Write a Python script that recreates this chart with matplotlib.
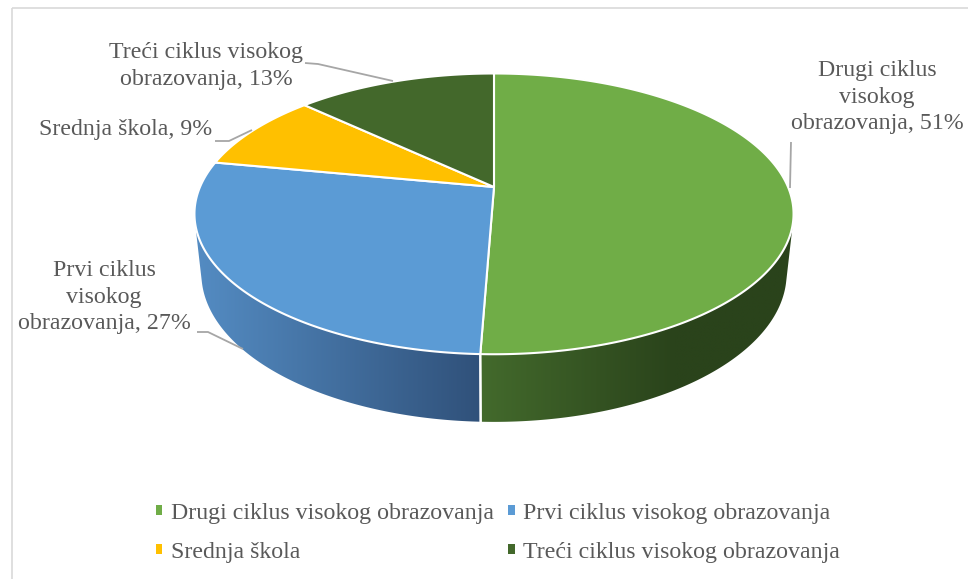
import numpy as np
import matplotlib
matplotlib.use("Agg")
import matplotlib.pyplot as plt
from matplotlib.patches import Polygon, Rectangle, Patch
from matplotlib.colors import LinearSegmentedColormap

# ---------------- data ----------------
categories = ["Drugi ciklus visokog obrazovanja",
              "Prvi ciklus visokog obrazovanja",
              "Srednja škola",
              "Treći ciklus visokog obrazovanja"]
values = [50.6, 27.4, 9.0, 13.0]
label_names = ["Drugi ciklus\nvisokog\nobrazovanja",
               "Prvi ciklus\nvisokog\nobrazovanja",
               "Srednja škola",
               "Treći ciklus visokog\nobrazovanja"]
top_colors = ["#70AD47", "#5B9BD5", "#FFC000", "#43682B"]
side_colors = [("#436A2C", "#2A431B"), ("#548CC3", "#30517A"),
               ("#CC9A00", "#8F6C00"), ("#36541F", "#263B16")]

# ---------------- layout / projection ----------------
W, Hpx = 968, 579
CX, CY, R = 494, 187, 294
SA, CA, F = 0.46, 0.888, 4.64     # tilt sin/cos, perspective distance
TH = 0.23                          # pie thickness
TXT = "#595959"
LINE = "#A6A6A6"
FS = 17.2

plt.rcParams['font.family'] = ['Liberation Serif', 'DejaVu Serif']

def proj(theta_deg, z):
    t = np.radians(theta_deg)
    x, y = np.sin(t), np.cos(t)
    v = y * SA + z * CA
    d = y * CA - z * SA
    k = F / (F + d)
    return CX + R * x * k, CY - R * v * k

fig = plt.figure(figsize=(W / 100, Hpx / 100), dpi=100)
ax = fig.add_axes([0, 0, 1, 1])
ax.set_xlim(0, W)
ax.set_ylim(Hpx, 0)
ax.axis('off')

# chart frame
ax.add_patch(Rectangle((12, 8), 1000, 1000, fill=False, edgecolor="#D9D9D9", lw=1.2, zorder=0))

total = sum(values)
bounds = np.concatenate([[0], np.cumsum(values) / total * 360.0])

# ---- side walls (visible part) ----
lim = np.degrees(np.arccos(-1.0 / (F * CA)))
VIS0, VIS1 = lim, 360.0 - lim
for i in range(len(values)):
    a, b = max(bounds[i], VIS0), min(bounds[i + 1], VIS1)
    if a >= b:
        continue
    th = np.linspace(a, b, 200)
    tx, ty = proj(th, 0.0)
    bx, by = proj(th[::-1], -TH)
    pts = np.column_stack([np.concatenate([tx, bx]), np.concatenate([ty, by])])
    poly = Polygon(pts, closed=True, facecolor='none', edgecolor='none')
    ax.add_patch(poly)
    x0, x1 = pts[:, 0].min(), pts[:, 0].max()
    y0, y1 = pts[:, 1].min(), pts[:, 1].max()
    cmap = LinearSegmentedColormap.from_list("g%d" % i, list(side_colors[i]))
    grad = np.linspace(0, 1, 256)
    grad = np.clip(grad * 1.6, 0, 1) if i == 0 else grad
    im = ax.imshow(grad[None, :], cmap=cmap, extent=(x0, x1, y1, y0),
                   aspect='auto', zorder=1, interpolation='bilinear')
    im.set_clip_path(poly)
    # white separating vertical edges
    for t in (bounds[i], bounds[i + 1]):
        if VIS0 < t < VIS1:
            p1 = proj(t, 0.0)
            p2 = proj(t, -TH)
            ax.plot([p1[0], p2[0]], [p1[1], p2[1]], color='white', lw=1.5, zorder=2)
ax.set_xlim(0, W)
ax.set_ylim(Hpx, 0)

# ---- top face ----
for i in range(len(values)):
    th = np.linspace(bounds[i], bounds[i + 1], 300)
    ax_, ay_ = proj(th, 0.0)
    pts = np.column_stack([np.concatenate([[CX], ax_]), np.concatenate([[CY], ay_])])
    ax.add_patch(Polygon(pts, closed=True, facecolor=top_colors[i],
                         edgecolor='white', lw=1.5, joinstyle='round', zorder=3))

# ---- data labels with leader lines ----
label_pos = [(877, 97), (104, 297), (126, 130), (206, 66)]
leaders = [[(791, 142), (790, 188)],
           [(197, 332), (208, 332), (243, 349)],
           [(215, 141), (229, 141), (252, 130)],
           [(305, 63), (318, 64), (393, 81)]]
for i in range(len(values)):
    txt = f"{label_names[i]}, {round(values[i])}%"
    ax.text(label_pos[i][0], label_pos[i][1], txt, ha='center', va='center',
            fontsize=FS, color=TXT, linespacing=1.32, zorder=5)
    lx, ly = zip(*leaders[i])
    ax.plot(lx, ly, color=LINE, lw=1.3, zorder=4, solid_capstyle='butt')

# ---- legend ----
order = [0, 2, 1, 3]
handles = [Patch(facecolor=top_colors[k], edgecolor='none') for k in order]
labels = [categories[k] for k in order]
leg = ax.legend(handles, labels, ncol=2, loc='upper left',
                bbox_to_anchor=(156, 503), bbox_transform=ax.transData,
                frameon=False, fontsize=FS, handlelength=0.27, handleheight=0.27,
                handletextpad=0.35, columnspacing=0.6, labelspacing=0.75,
                borderpad=0, borderaxespad=0)
for t in leg.get_texts():
    t.set_color(TXT)

fig.savefig("out.png", dpi=100)
